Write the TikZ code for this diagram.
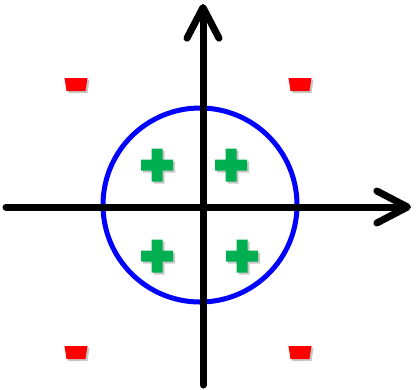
\documentclass[tikz,border=0pt]{standalone}
\usetikzlibrary{arrows.meta}
\definecolor{plusgreen}{RGB}{0,176,80}
\definecolor{shadowgray}{RGB}{200,200,200}
\tikzset{
  axis/.style={line width=5.25pt, line cap=round, line join=round,
    -{Straight Barb[length=23pt, width=24pt, round]}},
  plussign/.pic={
    \fill[shadowgray] (2,2) ++(-16,-5.5) -- ++(10.5,0) -- ++(0,-11) -- ++(11,0) -- ++(0,11)
      -- ++(10.5,0) -- ++(0,11) -- ++(-10.5,0) -- ++(0,11) -- ++(-11,0) -- ++(0,-11) -- ++(-10.5,0) -- cycle;
    \fill[plusgreen] (-16,-5.5) -- ++(10.5,0) -- ++(0,-11) -- ++(11,0) -- ++(0,11)
      -- ++(10.5,0) -- ++(0,11) -- ++(-10.5,0) -- ++(0,11) -- ++(-11,0) -- ++(0,-11) -- ++(-10.5,0) -- cycle;
  },
  minussign/.pic={
    \fill[shadowgray] (-9.5,-5) -- (13.5,-5) -- (11.5,8) -- (-7.5,8) -- cycle;
    \fill[red] (-11.5,-7) -- (11.5,-7) -- (9.5,6) -- (-9.5,6) -- cycle;
  }
}
\begin{document}
\begin{tikzpicture}[x=0.75pt, y=-0.75pt]
\useasboundingbox (0,0) rectangle (416,389);

% Circle
\draw[blue, line width=3.75pt] (200,205) circle (97);

% Axes
\coordinate (xl) at (6,207);
\coordinate (xr) at (411,207);
\coordinate (yb) at (203,385);
\coordinate (yt) at (203,4);
\draw[axis] (xl) -- (xr);
\draw[axis] (yb) -- (yt);

% Plus signs inside
\pic at (157,165) {plussign};
\pic at (231,165) {plussign};
\pic at (157,256) {plussign};
\pic at (242,256) {plussign};

% Minus signs outside
\pic at (76,85) {minussign};
\pic at (300,85) {minussign};
\pic at (76,353) {minussign};
\pic at (300,353) {minussign};

\end{tikzpicture}
\end{document}
